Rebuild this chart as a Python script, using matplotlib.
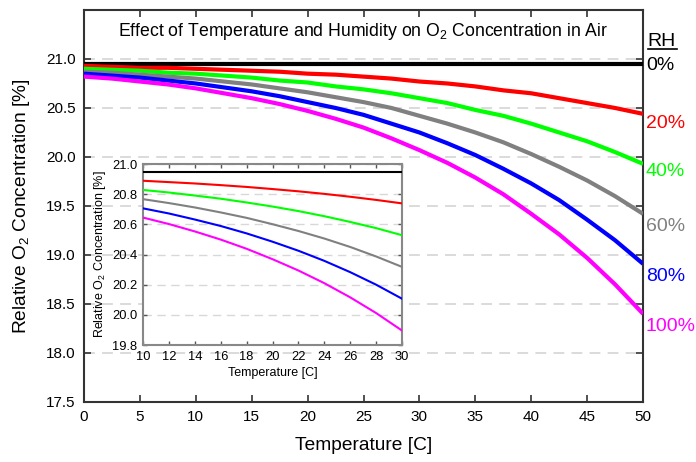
import matplotlib
matplotlib.use("Agg")
import matplotlib.pyplot as plt
from matplotlib.lines import Line2D

plt.rcParams['font.family'] = ['Liberation Sans', 'DejaVu Sans']
plt.rcParams['mathtext.fontset'] = 'custom'
plt.rcParams['mathtext.rm'] = 'Liberation Sans'

# main plot data (temperature in C, O2 in %)
temp = [0, 2.5, 5, 7.5, 10, 12.5, 15, 17.5, 20, 22.5, 25,
        27.5, 30, 32.5, 35, 37.5, 40, 42.5, 45, 47.5, 50]
rh_0 = [20.95] * len(temp)
rh_20 = [20.93, 20.92, 20.91, 20.91, 20.90, 20.89, 20.88, 20.87, 20.85, 20.84, 20.82,
         20.80, 20.77, 20.75, 20.72, 20.68, 20.65, 20.60, 20.55, 20.50, 20.44]
rh_40 = [20.90, 20.89, 20.88, 20.86, 20.85, 20.83, 20.81, 20.78, 20.76, 20.72, 20.69,
         20.65, 20.60, 20.55, 20.48, 20.42, 20.34, 20.25, 20.16, 20.05, 19.93]
rh_60 = [20.87, 20.86, 20.84, 20.82, 20.80, 20.77, 20.74, 20.70, 20.66, 20.61, 20.56,
         20.50, 20.42, 20.34, 20.25, 20.15, 20.03, 19.90, 19.76, 19.60, 19.42]
rh_80 = [20.85, 20.83, 20.81, 20.78, 20.75, 20.71, 20.67, 20.62, 20.56, 20.50, 20.43,
         20.34, 20.25, 20.14, 20.02, 19.88, 19.73, 19.56, 19.36, 19.15, 18.91]
rh_100 = [20.82, 20.80, 20.77, 20.74, 20.70, 20.65, 20.60, 20.54, 20.47, 20.39, 20.30,
          20.19, 20.07, 19.94, 19.79, 19.62, 19.42, 19.21, 18.97, 18.70, 18.40]

# inset data (10-30 C)
temp_in = [10, 12, 14, 16, 18, 20, 22, 24, 26, 28, 30]
in_0 = [20.95] * len(temp_in)
in_20 = [20.889, 20.880, 20.871, 20.860, 20.848, 20.834, 20.819, 20.802, 20.783, 20.762, 20.739]
in_40 = [20.828, 20.811, 20.791, 20.770, 20.745, 20.718, 20.688, 20.654, 20.616, 20.575, 20.528]
in_60 = [20.767, 20.741, 20.712, 20.679, 20.643, 20.601, 20.556, 20.506, 20.450, 20.387, 20.318]
in_80 = [20.706, 20.672, 20.632, 20.589, 20.540, 20.485, 20.425, 20.358, 20.283, 20.200, 20.107]
in_100 = [20.645, 20.602, 20.553, 20.499, 20.438, 20.369, 20.294, 20.210, 20.116, 20.012, 19.896]

rh_labels = ['0%', '20%', '40%', '60%', '80%', '100%']
colors = ['black', '#ff0000', '#00ff00', '#808080', '#0000ff', '#ff00ff']
main_series = [rh_0, rh_20, rh_40, rh_60, rh_80, rh_100]
inset_series = [in_0, in_20, in_40, in_60, in_80, in_100]

fig = plt.figure(figsize=(6.96, 4.62), dpi=100)
ax = fig.add_axes([0.1207, 0.1299, 0.8032, 0.8485])

for ys, c in zip(main_series, colors):
    ax.plot(temp, ys, color=c, lw=3.0, solid_capstyle='butt', solid_joinstyle='round', zorder=3)

ax.set_xlim(0, 50)
ax.set_ylim(17.5, 21.5)
ax.set_xticks(range(0, 51, 5))
ax.set_yticks([17.5, 18.0, 18.5, 19.0, 19.5, 20.0, 20.5, 21.0])
ax.set_yticklabels(['17.5', '18.0', '18.5', '19.0', '19.5', '20.0', '20.5', '21.0'])
ax.yaxis.grid(True, color='#d8d8d8', ls=(0, (6, 4)), lw=1.3)
ax.tick_params(direction='in', top=True, right=True, length=5, width=1.2,
               labelsize=11, color='#333333', pad=6)
for s in ax.spines.values():
    s.set_color('#333333')
    s.set_linewidth(1.5)
ax.set_xlabel('Temperature [C]', fontsize=13.8, labelpad=9)
ax.set_ylabel(r'Relative O$_2$ Concentration [%]', fontsize=13.8, labelpad=10)
ax.text(0.5, 0.946, r'Effect of Temperature and Humidity on O$_2$ Concentration in Air',
        transform=ax.transAxes, ha='center', va='center', fontsize=12.7)

# RH labels on the right
offsets = [-2, -10, -8, -13, -13, -13]
for ys, c, lab, off in zip(main_series, colors, rh_labels, offsets):
    ax.annotate(lab, xy=(1.0, ys[-1]), xycoords=('axes fraction', 'data'),
                xytext=(2, off * 0.72), textcoords='offset points',
                ha='left', va='center', color=c, fontsize=14, annotation_clip=False)
ax.annotate('RH', xy=(1.0, 0.92), xycoords='axes fraction', xytext=(3, 0),
            textcoords='offset points', ha='left', va='center', fontsize=14,
            annotation_clip=False)
fig.add_artist(Line2D([648 / 696, 677 / 696], [1 - 49 / 462, 1 - 49 / 462],
                      color='black', lw=1.2))

# inset
axin = fig.add_axes([0.2055, 0.2532, 0.3721, 0.3918])
for ys, c in zip(inset_series, colors):
    axin.plot(temp_in, ys, color=c, lw=1.5, zorder=3)
axin.set_xlim(10, 30)
axin.set_ylim(19.8, 21.0)
axin.set_xticks(range(10, 31, 2))
axin.set_yticks([19.8, 20.0, 20.2, 20.4, 20.6, 20.8, 21.0])
axin.set_yticklabels(['19.8', '20.0', '20.2', '20.4', '20.6', '20.8', '21.0'])
axin.yaxis.grid(True, color='#d8d8d8', ls=(0, (6, 4)), lw=1.0)
axin.tick_params(direction='in', top=True, right=True, length=3, width=1,
                 labelsize=9.3, color='#555555', pad=4)
for s in axin.spines.values():
    s.set_color('#888888')
    s.set_linewidth(1.5)
axin.set_xlabel('Temperature [C]', fontsize=9, labelpad=3)
axin.set_ylabel(r'Relative O$_2$ Concentration [%]', fontsize=9, labelpad=3)

fig.savefig('out.png', dpi=100)
